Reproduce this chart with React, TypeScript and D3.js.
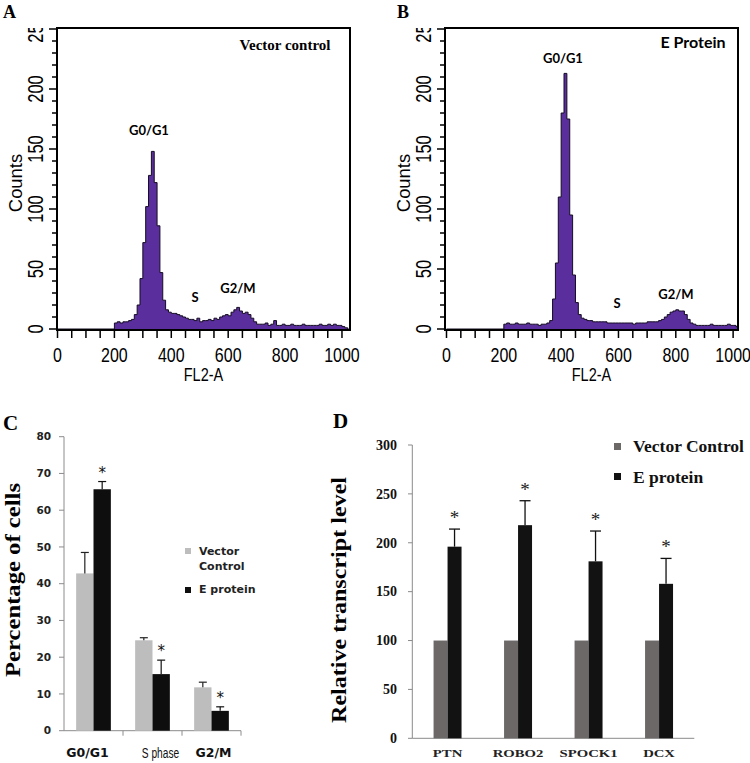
import React from 'react';
import * as d3 from 'd3';

// ---------- Panel A / B: DNA content histograms (counts per 10-channel bin, starting at channel 200)
const HIST_START = 200;
const HIST_BIN = 10;
const vectorControlCounts = [
  5, 6, 5, 6, 6, 7, 8, 12, 20, 42,
  72, 102, 128, 148, 122, 86, 47, 24, 16, 14,
  13, 13, 12, 11, 10, 9, 8, 8, 7, 9,
  6, 7, 7, 8, 7, 9, 8, 10, 11, 12,
  11, 14, 16, 18, 15, 13, 14, 12, 9, 6,
  4, 4, 4, 5, 3, 4, 7, 3, 3, 4,
  3, 3, 4, 3, 3, 3, 4, 3, 3, 3,
  3, 3, 4, 3, 3, 4, 3, 4, 3, 3,
  2, 1,
];
const eProteinCounts = [
  4, 5, 4, 4, 5, 4, 4, 4, 5, 4,
  4, 4, 3, 4, 4, 5, 7, 25, 55, 110,
  180, 213, 175, 95, 45, 22, 12, 9, 8, 7,
  7, 6, 6, 6, 6, 6, 5, 5, 5, 5,
  5, 5, 5, 5, 5, 4, 5, 5, 5, 5,
  6, 6, 6, 6, 7, 8, 10, 12, 14, 15,
  16, 15, 15, 12, 8, 5, 4, 3, 3, 3,
  3, 3, 4, 3, 3, 3, 3, 3, 4, 3,
  3, 2,
];
const histXTicks = [0, 200, 400, 600, 800, 1000];
const histYTicks = [0, 50, 100, 150, 200, 250];

// ---------- Panel C: cell-cycle distribution (%)
const phaseCategories = ['G0/G1', 'S phase', 'G2/M'];
const phaseVector = [42.8, 24.6, 11.8];
const phaseVectorErr = [5.7, 0.7, 1.4];
const phaseEProtein = [65.7, 15.4, 5.4];
const phaseEProteinErr = [2.1, 3.8, 1.1];
const phaseYTicks = [0, 10, 20, 30, 40, 50, 60, 70, 80];

// ---------- Panel D: relative transcript level
const genes = ['PTN', 'ROBO2', 'SPOCK1', 'DCX'];
const geneVector = [100, 100, 100, 100];
const geneEProtein = [196, 218, 181, 158];
const geneEProteinErr = [18, 25, 31, 26];
const geneYTicks = [0, 50, 100, 150, 200, 250, 300];

const ARIAL = "'Liberation Sans', Arial, sans-serif";
const SERIF = "'Liberation Serif', 'Times New Roman', serif";
const LATO = "Lato, 'Open Sans', sans-serif";
const DJV = "'DejaVu Sans', sans-serif";
const PURPLE = '#5a2e9c';

type HistProps = {
  id: string;
  counts: number[];
  left: number;
  right: number;
  xr: [number, number];
  letter: string;
  letterX: number;
  title: string;
  titleX: number;
  titleY: number;
  titleFont: string;
  titleSize: number;
  g1: [number, number];
  s: [number, number];
  g2: [number, number];
};

function Histogram(p: HistProps) {
  const top = 28;
  const bottom = 330;
  const x = d3.scaleLinear().domain([0, 1024]).range(p.xr);
  const y = d3.scaleLinear().domain([0, 250]).range([329, 29]);
  const pts: [number, number][] = [[0, 0]];
  p.counts.forEach((c, i) => pts.push([HIST_START + i * HIST_BIN, c]));
  pts.push([HIST_START + p.counts.length * HIST_BIN, 0]);
  pts.push([1024, 0]);
  const area = d3
    .area<[number, number]>()
    .x((d) => x(d[0]))
    .y0(y(0))
    .y1((d) => y(d[1]))
    .curve(d3.curveStepAfter);
  const line = d3
    .line<[number, number]>()
    .x((d) => x(d[0]))
    .y((d) => y(d[1]))
    .curve(d3.curveStepAfter);
  const xMinor = d3.range(0, 1001, 50);
  const yMinor = d3.range(0, 251, 10);
  return (
    <g>
      <defs>
        <clipPath id={`plot-${p.id}`}>
          <rect x={p.left} y={top} width={p.right - p.left} height={bottom - top + 1} />
        </clipPath>
        <clipPath id={`lab-${p.id}`}>
          <rect x={0} y={top} width={750} height={400} />
        </clipPath>
      </defs>
      <text x={p.letterX} y={18} fontFamily={SERIF} fontWeight="bold" fontSize={18}>
        {p.letter}
      </text>
      <g clipPath={`url(#plot-${p.id})`}>
        <path d={area(pts) || ''} fill={PURPLE} />
        <path d={line(pts) || ''} fill="none" stroke="#150c24" strokeWidth={1} />
      </g>
      <rect x={p.left} y={top} width={p.right - p.left} height={bottom - top} fill="none" stroke="#000" strokeWidth={2} />
      {yMinor.map((v) => (
        <line
          key={`yt${v}`}
          x1={p.left - (v % 50 === 0 ? 8 : 5)}
          x2={p.left}
          y1={y(v)}
          y2={y(v)}
          stroke="#000"
          strokeWidth={1.5}
        />
      ))}
      <g clipPath={`url(#lab-${p.id})`}>
        {histYTicks.map((v) => (
          <text
            key={`yl${v}`}
            transform={`translate(${p.left - 14},${y(v)}) rotate(-90) scale(1,1.3)`}
            textAnchor="middle"
            fontFamily={ARIAL}
            fontSize={16.5}
          >
            {v}
          </text>
        ))}
      </g>
      {xMinor.map((v) => (
        <line key={`xt${v}`} x1={x(v)} x2={x(v)} y1={bottom} y2={bottom + 8} stroke="#000" strokeWidth={1.5} />
      ))}
      {histXTicks.map((v) => (
        <text
          key={`xl${v}`}
          transform={`translate(${x(v)},362) scale(1,1.3)`}
          textAnchor="middle"
          fontFamily={ARIAL}
          fontSize={16}
        >
          {v}
        </text>
      ))}
      <text
        transform={`translate(${p.left - 35},${183}) rotate(-90) scale(1.15,1.2)`}
        textAnchor="middle"
        fontFamily={ARIAL}
        fontSize={16}
      >
        Counts
      </text>
      <text
        transform={`translate(${(p.left + p.right) / 2},381) scale(1,1.3)`}
        textAnchor="middle"
        fontFamily={ARIAL}
        fontSize={14.5}
      >
        FL2-A
      </text>
      <text x={p.titleX} y={p.titleY} textAnchor="middle" fontFamily={p.titleFont} fontWeight="bold" fontSize={p.titleSize}>
        {p.title}
      </text>
      <text x={p.g1[0]} y={p.g1[1]} textAnchor="middle" fontFamily={LATO} fontWeight="bold" fontSize={13}>
        G0/G1
      </text>
      <text x={p.s[0]} y={p.s[1]} textAnchor="middle" fontFamily={LATO} fontWeight="bold" fontSize={13}>
        S
      </text>
      <text x={p.g2[0]} y={p.g2[1]} textAnchor="middle" fontFamily={LATO} fontWeight="bold" fontSize={13}>
        G2/M
      </text>
    </g>
  );
}

function PanelC() {
  const y = d3.scaleLinear().domain([0, 80]).range([730.7, 436.7]);
  const x = d3.scaleBand<string>().domain(phaseCategories).range([64, 241]).padding(0);
  const inner = d3.scaleBand<string>().domain(['v', 'e']).range([0, x.bandwidth()]).paddingInner(0).paddingOuter(0.7);
  const bw = inner.bandwidth();
  const axisColor = '#8c8c8c';
  const gray = '#bdbdbd';
  const black = '#0e0e0e';
  return (
    <g>
      <text x={3} y={430} fontFamily={SERIF} fontWeight="bold" fontSize={21}>
        C
      </text>
      <text
        transform={`translate(20,580) rotate(-90)`}
        textAnchor="middle"
        fontFamily={SERIF}
        fontWeight="bold"
        fontSize={21}
        textLength={194}
        lengthAdjust="spacingAndGlyphs"
      >
        Percentage of cells
      </text>
      <line x1={64} x2={64} y1={y(80)} y2={y(0)} stroke={axisColor} strokeWidth={1} />
      <line x1={64} x2={241} y1={y(0)} y2={y(0)} stroke={axisColor} strokeWidth={1} />
      {phaseYTicks.map((v) => (
        <g key={v}>
          <line x1={59} x2={64} y1={y(v)} y2={y(v)} stroke={axisColor} />
          <text x={51} y={y(v)} dy="0.36em" textAnchor="end" fontFamily={DJV} fontWeight="bold" fontSize={10.5} fill="#222">
            {v}
          </text>
        </g>
      ))}
      {phaseCategories.map((c) => (
        <line key={`sep${c}`} x1={(x(c) || 0) + x.bandwidth()} x2={(x(c) || 0) + x.bandwidth()} y1={y(0)} y2={y(0) + 5} stroke={axisColor} />
      ))}
      {phaseCategories.map((c, i) => {
        const x0 = x(c) || 0;
        const xv = x0 + (inner('v') || 0);
        const xe = x0 + (inner('e') || 0);
        return (
          <g key={c}>
            <rect x={xv} y={y(phaseVector[i])} width={bw} height={y(0) - y(phaseVector[i])} fill={gray} />
            <rect x={xe} y={y(phaseEProtein[i])} width={bw} height={y(0) - y(phaseEProtein[i])} fill={black} />
            <line x1={xv + bw / 2} x2={xv + bw / 2} y1={y(phaseVector[i])} y2={y(phaseVector[i] + phaseVectorErr[i])} stroke="#222" strokeWidth={1.2} />
            <line x1={xv + bw / 2 - 4} x2={xv + bw / 2 + 4} y1={y(phaseVector[i] + phaseVectorErr[i])} y2={y(phaseVector[i] + phaseVectorErr[i])} stroke="#222" strokeWidth={1.2} />
            <line x1={xe + bw / 2} x2={xe + bw / 2} y1={y(phaseEProtein[i])} y2={y(phaseEProtein[i] + phaseEProteinErr[i])} stroke="#111" strokeWidth={1.2} />
            <line x1={xe + bw / 2 - 4} x2={xe + bw / 2 + 4} y1={y(phaseEProtein[i] + phaseEProteinErr[i])} y2={y(phaseEProtein[i] + phaseEProteinErr[i])} stroke="#111" strokeWidth={1.2} />
            <text x={xe + bw / 2} y={y(phaseEProtein[i] + phaseEProteinErr[i]) - 4} textAnchor="middle" fontFamily={DJV} fontSize={15} fill="#111">
              *
            </text>
            {c === 'S phase' ? (
              <g transform={`translate(${x0 + x.bandwidth() / 2 + 8},758) scale(0.85,1.25)`}>
                <text x={0} y={0} textAnchor="middle" fontFamily={ARIAL} fontSize={12} fill="#111">
                  {c}
                </text>
              </g>
            ) : (
              <text x={x0 + x.bandwidth() / 2 + (i === 0 ? -6 : 2)} y={757} textAnchor="middle" fontFamily={DJV} fontWeight="bold" fontSize={12.5} fill="#111">
                {c}
              </text>
            )}
          </g>
        );
      })}
      <rect x={185} y={548} width={6} height={6} fill={gray} />
      <text x={199} y={555} fontFamily={DJV} fontWeight="bold" fontSize={11} fill="#222">
        Vector
      </text>
      <text x={199} y={570} fontFamily={DJV} fontWeight="bold" fontSize={11} fill="#222">
        Control
      </text>
      <rect x={185} y={587} width={6} height={6} fill={black} />
      <text x={199} y={593} fontFamily={DJV} fontWeight="bold" fontSize={11} fill="#222">
        E protein
      </text>
    </g>
  );
}

function PanelD() {
  const y = d3.scaleLinear().domain([0, 300]).range([738.3, 445]);
  const x = d3.scaleBand<string>().domain(genes).range([412.3, 694.3]).padding(0);
  const inner = d3.scaleBand<string>().domain(['v', 'e']).range([0, x.bandwidth()]).paddingInner(0).paddingOuter(1.52);
  const bw = inner.bandwidth();
  const axisColor = '#8a8a8a';
  const gray = '#6c6868';
  const black = '#121212';
  return (
    <g>
      <text x={333} y={428} fontFamily={SERIF} fontWeight="bold" fontSize={21}>
        D
      </text>
      <text
        transform={`translate(346,600) rotate(-90)`}
        textAnchor="middle"
        fontFamily={SERIF}
        fontWeight="bold"
        fontSize={21}
        textLength={246}
        lengthAdjust="spacingAndGlyphs"
      >
        Relative transcript level
      </text>
      <line x1={412.3} x2={412.3} y1={y(300)} y2={y(0)} stroke={axisColor} strokeWidth={1} />
      <line x1={412.3} x2={694.3} y1={y(0)} y2={y(0)} stroke={axisColor} strokeWidth={1} />
      {geneYTicks.map((v) => (
        <g key={v}>
          <line x1={408} x2={412.3} y1={y(v)} y2={y(v)} stroke={axisColor} />
          <text x={397} y={y(v)} dy="0.34em" textAnchor="end" fontFamily={SERIF} fontWeight="bold" fontSize={14} fill="#111">
            {v}
          </text>
        </g>
      ))}
      {genes.map((g, i) => {
        const x0 = x(g) || 0;
        const xv = x0 + (inner('v') || 0);
        const xe = x0 + (inner('e') || 0);
        const top = y(geneEProtein[i] + geneEProteinErr[i]);
        return (
          <g key={g}>
            <rect x={xv} y={y(geneVector[i])} width={bw} height={y(0) - y(geneVector[i])} fill={gray} />
            <rect x={xe} y={y(geneEProtein[i])} width={bw} height={y(0) - y(geneEProtein[i])} fill={black} />
            <line x1={xe + bw / 2} x2={xe + bw / 2} y1={y(geneEProtein[i])} y2={top} stroke="#111" strokeWidth={1.3} />
            <line x1={xe + bw / 2 - 5.5} x2={xe + bw / 2 + 5.5} y1={top} y2={top} stroke="#111" strokeWidth={1.3} />
            <text x={xe + bw / 2} y={top - 5} textAnchor="middle" fontFamily={SERIF} fontSize={19} fill="#222">
              *
            </text>
            <g transform={`translate(${x0 + x.bandwidth() / 2},757) scale(1.4,1)`}>
              <text x={0} y={0} textAnchor="middle" fontFamily={SERIF} fontWeight="bold" fontSize={10.5} fill="#222">
                {g}
              </text>
            </g>
          </g>
        );
      })}
      <rect x={614} y={443} width={7} height={7} fill={gray} />
      <text x={633} y={452} fontFamily={SERIF} fontWeight="bold" fontSize={17.5} fill="#111">
        Vector Control
      </text>
      <rect x={614} y={473} width={7} height={7} fill={black} />
      <text x={633} y={483} fontFamily={SERIF} fontWeight="bold" fontSize={17.5} fill="#111">
        E protein
      </text>
    </g>
  );
}

export default function App() {
  return (
    <svg width={750} height={763} style={{ position: 'absolute', left: 0, top: 0, background: '#fff' }}>
      <rect x={0} y={0} width={750} height={763} fill="#fff" />
      <Histogram
        id="a"
        counts={vectorControlCounts}
        left={57}
        right={350}
        xr={[57.5, 348.8]}
        letter="A"
        letterX={3}
        title="Vector control"
        titleX={285}
        titleY={50}
        titleFont={SERIF}
        titleSize={15}
        g1={[149, 135]}
        s={[195, 302]}
        g2={[238, 293]}
      />
      <Histogram
        id="b"
        counts={eProteinCounts}
        left={445}
        right={738}
        xr={[446.5, 740]}
        letter="B"
        letterX={397}
        title="E Protein"
        titleX={693}
        titleY={48}
        titleFont={LATO}
        titleSize={16}
        g1={[563, 63]}
        s={[617, 308]}
        g2={[676, 299]}
      />
      <PanelC />
      <PanelD />
    </svg>
  );
}
